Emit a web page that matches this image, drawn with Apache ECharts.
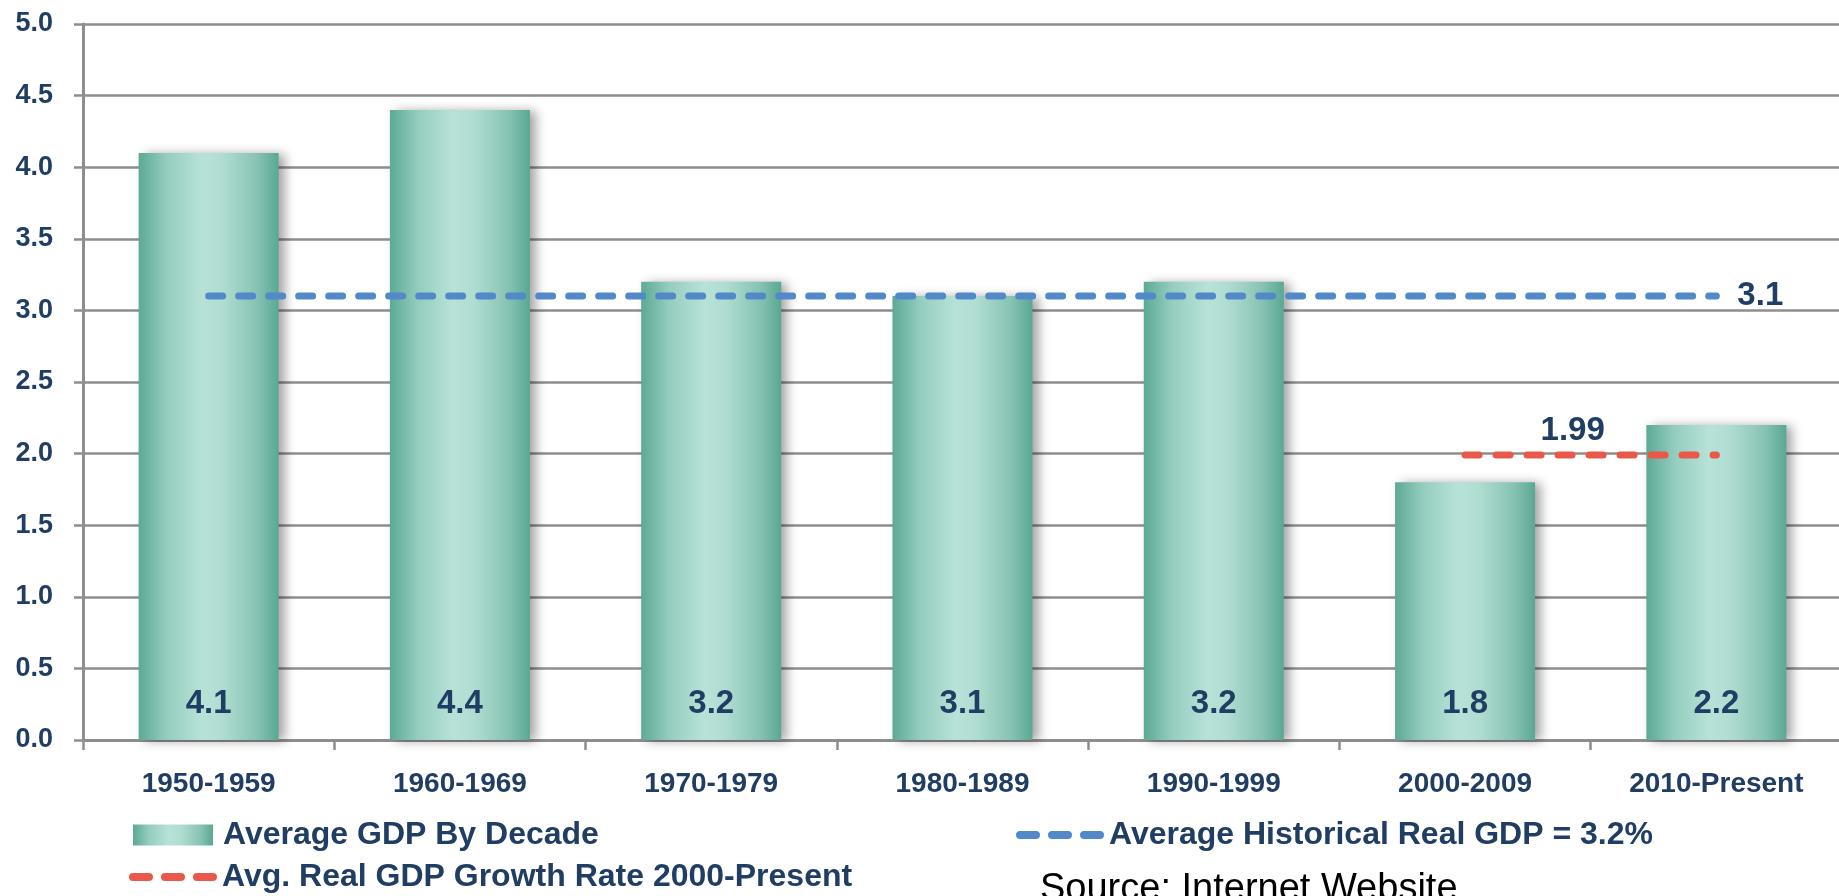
<!DOCTYPE html>
<html>
<head>
<meta charset="utf-8">
<script src="https://cdn.jsdelivr.net/npm/echarts@6/dist/echarts.min.js"></script>
<style>
  html, body { margin: 0; padding: 0; background: #ffffff; }
  #chart { width: 1839px; height: 896px; }
</style>
</head>
<body>
<div id="chart"></div>
<script>
// Real GDP growth, averaged by decade (%)
const decades = ['1950-1959', '1960-1969', '1970-1979', '1980-1989', '1990-1999', '2000-2009', '2010-Present'];
const decadeAverages = [4.1, 4.4, 3.2, 3.1, 3.2, 1.8, 2.2];
// Long-run average, drawn across every decade
const historicalAverage = [3.1, 3.1, 3.1, 3.1, 3.1, 3.1, 3.1];
// Average since 2000, drawn over the last two decades only
const recentAverage = [null, null, null, null, null, 1.99, 1.99];
// Value axis ticks
const yMin = 0, yMax = 5, yStep = 0.5;

const NAVY = '#203D63';
const GRID_GREY = '#8E8E8E';
const BLUE = '#5189C9';
const RED = '#E8594A';
const FONT = '"Liberation Sans", Arial, sans-serif';

// Three rounded dashes, used as the legend key of the dashed lines
const DASH_ICON = 'path://M4,0H20A4,4,0,0,1,20,8H4A4,4,0,0,1,4,0Z' +
  'M36,0H52A4,4,0,0,1,52,8H36A4,4,0,0,1,36,0Z' +
  'M68,0H84A4,4,0,0,1,84,8H68A4,4,0,0,1,68,0Z';

const num = (v, d) => {
  const x = Array.isArray(v) ? v[v.length - 1] : v;
  return (x == null || isNaN(x)) ? '' : Number(x).toFixed(d);
};

const barFill = {
  type: 'linear', x: 0, y: 0, x2: 1, y2: 0,
  colorStops: [
    { offset: 0, color: '#5DA996' },
    { offset: 0.2, color: '#94CDBF' },
    { offset: 0.45, color: '#B8E2D8' },
    { offset: 0.6, color: '#B0DDD1' },
    { offset: 0.85, color: '#86C2B3' },
    { offset: 1, color: '#5AA794' }
  ]
};

const chart = echarts.init(document.getElementById('chart'), null, { renderer: 'canvas' });

const legendText = { color: NAVY, fontFamily: FONT, fontWeight: 'bold', fontSize: 32 };

chart.setOption({
  backgroundColor: '#ffffff',
  animation: false,
  grid: { left: 83, top: 24, width: 1759, height: 716, outerBoundsMode: 'none' },
  xAxis: {
    type: 'category',
    data: decades,
    axisLine: { show: true, lineStyle: { color: GRID_GREY, width: 3 } },
    axisTick: { show: true, length: 10, lineStyle: { color: GRID_GREY, width: 2.5 } },
    axisLabel: { color: NAVY, fontFamily: FONT, fontWeight: 'bold', fontSize: 28, margin: 30, interval: 0 },
    splitLine: { show: false }
  },
  yAxis: {
    type: 'value',
    min: yMin, max: yMax, interval: yStep,
    axisLine: { show: true, lineStyle: { color: GRID_GREY, width: 3 } },
    axisTick: { show: true, length: 9, lineStyle: { color: GRID_GREY, width: 2.5 } },
    axisLabel: {
      color: NAVY, fontFamily: FONT, fontWeight: 'bold', fontSize: 27, margin: 30,
      formatter: v => Number(v).toFixed(1)
    },
    splitLine: { show: true, lineStyle: { color: GRID_GREY, width: 2.5 } }
  },
  legend: [
    {
      data: [{ name: 'Average GDP By Decade', icon: 'rect' }],
      left: 133, top: 819, padding: 0,
      itemWidth: 80, itemHeight: 21,
      itemStyle: { shadowBlur: 0, shadowOffsetX: 0, shadowOffsetY: 0, shadowColor: 'rgba(0,0,0,0)' },
      textStyle: Object.assign({ padding: [0, 0, 0, 5] }, legendText)
    },
    {
      data: [{ name: 'Average Historical Real GDP = 3.2%', icon: DASH_ICON }],
      left: 1016, top: 819, padding: 0,
      itemWidth: 88, itemHeight: 9,
      textStyle: legendText
    },
    {
      data: [{ name: 'Avg. Real GDP Growth Rate 2000-Present', icon: DASH_ICON }],
      left: 129, top: 861, padding: 0,
      itemWidth: 88, itemHeight: 9,
      textStyle: legendText
    }
  ],
  series: [
    {
      name: 'Average GDP By Decade',
      type: 'bar',
      data: decadeAverages,
      barWidth: 140,
      itemStyle: {
        color: barFill,
        shadowBlur: 10, shadowOffsetX: 6, shadowOffsetY: 1,
        shadowColor: 'rgba(0,0,0,0.35)'
      },
      label: {
        show: true, position: 'insideBottom', distance: 20,
        color: NAVY, fontFamily: FONT, fontWeight: 'bold', fontSize: 33,
        formatter: p => num(p.value, 1)
      },
      z: 2
    },
    {
      name: 'Average Historical Real GDP = 3.2%',
      type: 'line',
      data: historicalAverage,
      symbol: 'none',
      lineStyle: { color: BLUE, width: 7, type: [14, 16], cap: 'round' },
      itemStyle: { color: BLUE },
      endLabel: {
        show: true, distance: 21,
        color: NAVY, fontFamily: FONT, fontWeight: 'bold', fontSize: 33,
        formatter: p => num(p.value, 1)
      },
      z: 5
    },
    {
      name: 'Avg. Real GDP Growth Rate 2000-Present',
      type: 'line',
      data: recentAverage,
      symbol: 'none',
      lineStyle: { color: RED, width: 7, type: [14, 17], cap: 'round' },
      itemStyle: { color: RED },
      // Carries only the value label, above the dashed segment
      markLine: {
        silent: true,
        symbol: 'none',
        lineStyle: { color: 'rgba(0,0,0,0)', width: 0, type: 'solid' },
        label: {
          show: true, position: 'insideMiddleTop', distance: 8,
          offset: [-18, 0],
          color: NAVY, fontFamily: FONT, fontWeight: 'bold', fontSize: 33,
          opacity: 1,
          formatter: () => num(recentAverage[5], 2)
        },
        emphasis: { disabled: true },
        data: [[
          { coord: [5, recentAverage[5]] },
          { coord: [6, recentAverage[6]] }
        ]]
      },
      z: 5
    }
  ],
  graphic: [
    {
      type: 'text',
      left: 1040, top: 871,
      style: {
        text: 'Source: Internet Website',
        fill: '#000000',
        font: '38px "Liberation Sans", Arial, sans-serif'
      }
    }
  ]
});
</script>
</body>
</html>
